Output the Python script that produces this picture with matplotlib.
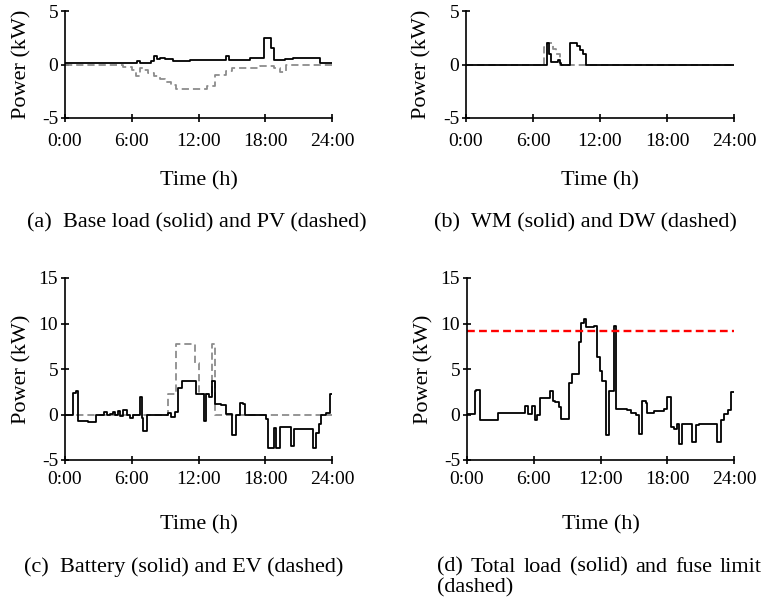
import matplotlib
matplotlib.use("Agg")
import matplotlib.pyplot as plt
import numpy as np

plt.rcParams["font.family"] = "Liberation Serif"
plt.rcParams["axes.unicode_minus"] = False

W, H = 774, 602

HOUR_TICKS = [0, 6, 12, 18, 24]
HOUR_LABELS = ["0:00", "6:00", "12:00", "18:00", "24:00"]

# base load (solid) and PV (dashed), kW, step changes at the listed hours
BASE_T = [0.0, 4.5, 5.5, 6.5, 6.75, 7.75, 8.0, 8.25, 8.5, 9.0, 9.75, 11.25,
          14.5, 14.75, 16.6, 17.9, 18.5, 18.75, 19.75, 20.5, 21.5, 22.9]
BASE_V = [0.12, 0.15, 0.12, 0.3, 0.15, 0.3, 0.75, 0.5, 0.65, 0.5, 0.35, 0.45,
          0.75, 0.45, 0.6, 2.5, 1.5, 0.45, 0.55, 0.6, 0.65, 0.15]
PV_T = [0.0, 4.25, 5.25, 6.0, 6.4, 6.7, 7.0, 7.5, 8.0, 8.5, 9.0, 9.5, 10.0,
        12.75, 13.5, 14.5, 15.0, 17.5, 18.75, 19.3, 19.9]
PV_V = [0.0, -0.05, -0.2, -0.55, -1.1, -0.35, -0.5, -0.75, -1.05, -1.35, -1.65,
        -1.95, -2.25, -2.05, -1.0, -0.6, -0.35, -0.15, -0.35, -0.7, 0.0]

# washing machine (solid) and dishwasher (dashed)
WM_T = [0.0, 7.25, 7.45, 7.65, 8.2, 8.4, 8.55, 9.3, 9.9, 10.2, 10.5, 10.75]
WM_V = [0.0, 2.0, 1.0, 0.2, 0.4, 0.1, 0.0, 2.0, 1.7, 1.35, 1.0, 0.0]
DW_T = [0.0, 6.95, 7.25, 7.8, 8.1, 8.4]
DW_V = [0.0, 1.6, 2.0, 1.45, 1.0, 0.0]

# battery (solid) and EV charging (dashed)
BAT_T = [0.0, 0.75, 0.95, 1.2, 2.1, 2.75, 3.5, 3.75, 4.05, 4.35, 4.5, 4.8,
         4.95, 5.25, 5.6, 5.85, 6.15, 6.7, 6.95, 7.05, 7.35, 9.25, 9.5, 9.9,
         10.2, 10.5, 11.75, 12.1, 12.45, 12.65, 12.95, 13.2, 13.5, 14.0, 14.45,
         15.0, 15.35, 15.7, 16.0, 16.2, 18.1, 18.25, 18.75, 19.0, 19.3, 20.3,
         20.6, 22.3, 22.6, 22.8, 23.05, 23.5, 23.8]
BAT_V = [0.0, 2.4, 2.6, -0.75, -0.85, 0.0, 0.3, -0.1, 0.1, 0.3, -0.05, 0.35,
         -0.2, 0.45, 0.0, -0.35, 0.0, 1.9, -0.4, -1.8, 0.0, 0.15, -0.25, 0.3,
         2.9, 3.7, 2.3, 2.2, -0.75, 2.2, 1.9, 3.7, 1.15, 1.0, 0.05,
         -2.3, 0.0, 1.3, 1.1, 0.0, -0.5, -3.7, -1.5, -3.7, -1.4, -3.5,
         -1.6, -3.7, -2.0, -1.0, 0.0, 0.2, 2.3]
EV_T = [0.0, 9.25, 9.95, 11.7, 12.0, 13.25, 13.5]
EV_V = [0.0, 2.3, 7.7, 5.7, 2.3, 7.7, 0.0]

# total household load (solid) and fuse limit (dashed)
TOT_T = [0.0, 0.75, 0.85, 1.15, 2.75, 5.2, 5.45, 5.85, 6.1, 6.3, 6.6, 7.45,
         7.7, 7.95, 8.25, 8.45, 9.15, 9.45, 10.05, 10.25, 10.5, 10.7, 11.4,
         11.7, 11.95, 12.15, 12.5, 12.75, 13.2, 13.4, 14.4, 14.7, 15.15, 15.45,
         15.75, 16.05, 16.2, 16.8, 17.7, 18.0, 18.3, 18.6, 18.9, 19.05, 19.35,
         20.25, 20.55, 20.85, 22.5, 22.8, 23.1, 23.5, 23.75]
TOT_V = [0.1, 2.55, 2.65, -0.6, 0.2, 0.95, 0.1, 0.95, -0.6, 0.0, 1.85, 2.55,
         1.5, 1.4, 0.85, -0.5, 3.5, 4.5, 8.0, 10.1, 10.5, 9.6, 9.7,
         6.3, 4.75, 3.65, -2.3, 2.55, 9.7, 0.65, 0.45, 0.2, -0.1, -2.1,
         1.45, 1.3, 0.2, 0.4, 0.65, 1.95, -1.35, -1.6, -1.0, -3.2, -1.0,
         -3.0, -1.2, -1.0, -3.0, -0.6, 0.1, 0.45, 2.5]
FUSE_LIMIT = 9.2

SOLID = dict(color="black", lw=1.3)
DASHED = dict(color="#8c8c8c", lw=1.3, dashes=(4.0, 2.2))


def add_axes_px(fig, left, top, right, bottom):
    return fig.add_axes([left / W, 1 - bottom / H, (right - left) / W, (bottom - top) / H])


def step(ax, t, v, **kw):
    t = np.append(t, 24.0)
    v = np.append(v, v[-1])
    ax.step(t, v, where="post", **kw)


def style(ax, ylim, yticks, xlabel_y, xpad):
    ax.set_xlim(0, 24)
    ax.set_ylim(*ylim)
    ax.set_xticks(HOUR_TICKS)
    ax.set_xticklabels(HOUR_LABELS)
    ax.set_yticks(yticks)
    for s in ("top", "right"):
        ax.spines[s].set_visible(False)
    for s in ("left", "bottom"):
        ax.spines[s].set_linewidth(1.2)
    ax.tick_params(direction="inout", length=6, width=1.2, labelsize=14)
    ax.tick_params(axis="y", pad=2)
    ax.tick_params(axis="x", pad=xpad)
    ax.set_xlabel("Time (h)", fontsize=16, va="center")
    ax.set_ylabel("Power (kW)", fontsize=16, va="center")
    ax.xaxis.set_label_coords(0.5, xlabel_y)
    ax.yaxis.set_label_coords(-0.163, 0.5)


def caption(fig, x, y, text, **kw):
    return fig.text(x / W, 1 - y / H, text, fontsize=16, va="center", **kw)


fig = plt.figure(figsize=(W / 100, H / 100), dpi=100)

ax_a = add_axes_px(fig, 65, 11, 332, 118)
step(ax_a, PV_T, PV_V, **DASHED)
step(ax_a, BASE_T, BASE_V, **SOLID)
style(ax_a, (-5, 5), [-5, 0, 5], -0.585, 8)

ax_b = add_axes_px(fig, 466, 11, 734, 118)
step(ax_b, DW_T, DW_V, **DASHED)
step(ax_b, WM_T, WM_V, **SOLID)
style(ax_b, (-5, 5), [-5, 0, 5], -0.585, 8)

ax_c = add_axes_px(fig, 65, 278, 332, 460)
step(ax_c, EV_T, EV_V, **DASHED)
step(ax_c, BAT_T, BAT_V, **SOLID)
style(ax_c, (-5, 15), [-5, 0, 5, 10, 15], -0.355, 5)

ax_d = add_axes_px(fig, 467, 278, 734, 460)
step(ax_d, TOT_T, TOT_V, **SOLID)
ax_d.axhline(FUSE_LIMIT, color="red", lw=1.7, dashes=(3.3, 1.8))
style(ax_d, (-5, 15), [-5, 0, 5, 10, 15], -0.355, 5)

caption(fig, 197, 223, "(a)  Base load (solid) and PV (dashed)", ha="center")
caption(fig, 585, 223, "(b)  WM (solid) and DW (dashed)", ha="center")
caption(fig, 184, 567, "(c)  Battery (solid) and EV (dashed)", ha="center")

# caption (d) is justified across the column, wrapping onto a second line
words = ["(d)", "Total", "load", "(solid)", "and", "fuse", "limit"]
x_left, x_right = 437, 762
renderer = fig.canvas.get_renderer()
items = [caption(fig, 0, 567, w, ha="left") for w in words]
widths = [t.get_window_extent(renderer).width for t in items]
gap = (x_right - x_left - sum(widths)) / (len(words) - 1)
x = x_left
for t, w in zip(items, widths):
    t.set_x(x / W)
    x += w + gap
caption(fig, x_left, 588, "(dashed)", ha="left")

fig.savefig("out.png", dpi=100)
